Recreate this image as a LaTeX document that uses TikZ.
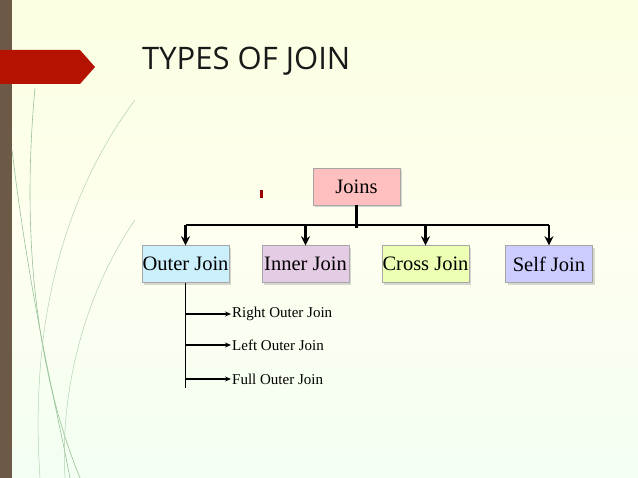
\documentclass[tikz,border=0pt]{standalone}
\usetikzlibrary{shadows,arrows.meta}
\usepackage{fontspec}
\setmainfont{Liberation Serif}
\newfontfamily\titlefont{Open Sans}
\begin{document}
\begin{tikzpicture}[x=1pt,y=-1pt,
  box/.style={draw=black!35,minimum width=87pt,minimum height=37pt,inner sep=0pt,font=\fontsize{20.5}{22}\selectfont,drop shadow={opacity=0.3}},
  con/.style={line width=2.4pt,-{Stealth[length=9pt,width=9pt]}},
  sub/.style={line width=1.5pt,-{Stealth[length=6pt,width=5pt]}},
  lab/.style={anchor=west,font=\fontsize{15}{17}\selectfont,inner sep=1pt}]
\useasboundingbox (0,0) rectangle (638,478);
\shade[top color=green!15!yellow!12!white,bottom color=green!5!white,middle color=green!6!yellow!6!white] (0,0) rectangle (638,478);
\fill[brown!50!black!60!gray] (0,0) rectangle (12,478);
\draw[green!40!black!40,line width=0.6pt] (35,88) .. controls (20,250) and (40,380) .. (80,478);
\draw[green!40!black!40,line width=0.6pt] (12,150) .. controls (30,300) and (55,400) .. (70,478);
\draw[green!40!black!30,line width=0.5pt] (135,100) .. controls (60,200) and (30,330) .. (40,478);
\draw[green!40!black!30,line width=0.5pt] (135,220) .. controls (80,300) and (60,400) .. (65,478);
\fill[red!65!black!85!orange] (0,50) -- (80,50) -- (95,67) -- (80,84) -- (0,84) -- cycle;
\node[anchor=base west,inner sep=0pt,font=\titlefont\fontsize{31}{33}\selectfont,text=black!90] (title) at (142,70) {TYPES OF JOIN};
\fill[red!60!black] (260,190) rectangle (263,198);
\node[box,fill=red!25] (j) at (356.5,186.5) {Joins};
\node[box,fill=cyan!20] (o) at (185.5,264) {Outer Join};
\node[box,fill=violet!20] (i) at (305.5,264) {Inner Join};
\node[box,fill=lime!30] (c) at (425.5,264) {Cross Join};
\node[box,fill=blue!20] (s) at (549,264) {Self Join};
\coordinate (h) at (356.5,225);
\draw[line width=2.4pt] (j.south) -- (356.5,228);
\draw[line width=2.4pt] (185.5,225) -- (549,225);
\foreach \n in {o,i,c,s} \draw[con] (h -| \n) -- (\n.north);
\coordinate (ob) at (185.5,388);
\draw[line width=1.5pt] (o.south) -- (ob);
\node[lab] (r) at (231,314) {Right Outer Join};
\node[lab] (l) at (231,345) {Left Outer Join};
\node[lab] (f) at (231,379) {Full Outer Join};
\foreach \n in {r,l,f} \draw[sub] (\n.west -| ob) -- (\n.west);
\end{tikzpicture}
\end{document}
